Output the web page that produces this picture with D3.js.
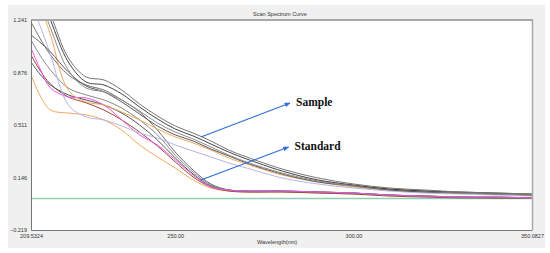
<!DOCTYPE html>
<html><head><meta charset="utf-8">
<script src="https://cdn.jsdelivr.net/npm/d3@7"></script>
<style>html,body{margin:0;padding:0;background:#fff;}svg{display:block;}</style>
</head><body>
<svg id="c" width="550" height="253"></svg>
<script>
const wavelengths = [209.5324, 212, 215, 220, 225, 230, 235, 240, 245, 250, 255, 260, 265, 270, 280, 290, 300, 310, 320, 330, 340, 350.0827];
const yTicks = [-0.219, 0.146, 0.511, 0.876, 1.241];
const xTickLabels = ["209.5324", "250.00", "300.00", "350.0827"];
const xTickValues = [209.5324, 250, 300, 350.0827];
const baselineValues = wavelengths.map(() => 0);

const sample1 = [1.519, 1.415, 1.276, 0.977, 0.845, 0.824, 0.754, 0.657, 0.574, 0.504, 0.455, 0.400, 0.337, 0.289, 0.205, 0.143, 0.101, 0.073, 0.059, 0.045, 0.038, 0.031];
const sample2 = [1.554, 1.436, 1.241, 0.949, 0.810, 0.789, 0.727, 0.636, 0.553, 0.483, 0.435, 0.379, 0.323, 0.275, 0.191, 0.129, 0.094, 0.066, 0.052, 0.045, 0.038, 0.031];
const sample3 = [1.484, 1.380, 1.185, 0.893, 0.768, 0.741, 0.685, 0.608, 0.525, 0.462, 0.414, 0.358, 0.302, 0.254, 0.177, 0.122, 0.087, 0.066, 0.052, 0.038, 0.031, 0.024];
const sample4 = [1.450, 1.345, 1.137, 0.754, 0.671, 0.650, 0.601, 0.546, 0.483, 0.428, 0.386, 0.337, 0.282, 0.240, 0.163, 0.115, 0.080, 0.059, 0.045, 0.038, 0.031, 0.024];
const sample5 = [1.137, 1.088, 1.019, 0.880, 0.782, 0.741, 0.671, 0.587, 0.504, 0.442, 0.400, 0.344, 0.296, 0.247, 0.170, 0.115, 0.087, 0.059, 0.045, 0.038, 0.031, 0.024];
const sample6 = [1.345, 1.206, 0.998, 0.650, 0.567, 0.546, 0.504, 0.455, 0.421, 0.372, 0.330, 0.289, 0.247, 0.212, 0.143, 0.101, 0.073, 0.052, 0.038, 0.031, 0.024, 0.017];

const standard1 = [1.227, 1.116, 0.998, 0.859, 0.789, 0.754, 0.685, 0.601, 0.476, 0.323, 0.198, 0.101, 0.059, 0.052, 0.052, 0.045, 0.038, 0.024, 0.017, 0.010, 0.010, 0.004];
const standard2 = [1.046, 0.907, 0.768, 0.706, 0.699, 0.650, 0.546, 0.442, 0.372, 0.268, 0.163, 0.080, 0.059, 0.052, 0.052, 0.045, 0.038, 0.024, 0.017, 0.010, 0.010, 0.004];
const standard3 = [0.949, 0.866, 0.789, 0.720, 0.685, 0.650, 0.594, 0.511, 0.407, 0.282, 0.170, 0.087, 0.059, 0.052, 0.052, 0.045, 0.038, 0.024, 0.017, 0.010, 0.004, 0.004];
const standard4 = [0.859, 0.720, 0.615, 0.594, 0.581, 0.546, 0.476, 0.372, 0.289, 0.212, 0.129, 0.073, 0.052, 0.045, 0.045, 0.038, 0.031, 0.024, 0.017, 0.010, 0.004, 0.004];
const standard5 = [0.998, 0.893, 0.796, 0.706, 0.665, 0.615, 0.546, 0.462, 0.365, 0.254, 0.150, 0.080, 0.052, 0.045, 0.045, 0.038, 0.031, 0.017, 0.010, 0.004, 0.004, 0.004];
const standard6 = [1.102, 0.998, 0.893, 0.768, 0.720, 0.685, 0.629, 0.546, 0.442, 0.302, 0.184, 0.094, 0.059, 0.052, 0.052, 0.045, 0.038, 0.024, 0.017, 0.010, 0.010, 0.004];

const seriesList = [
  {name: "Baseline", values: baselineValues, color: "#8ecfb2"},
  {name: "Standard 4", values: standard4, color: "#f4a860"},
  {name: "Standard 5", values: standard5, color: "#9a4a3a"},
  {name: "Standard 3", values: standard3, color: "#555555"},
  {name: "Standard 6", values: standard6, color: "#8a8a8a"},
  {name: "Standard 1", values: standard1, color: "#6e6e6e"},
  {name: "Standard 2", values: standard2, color: "#ee55e8"},
  {name: "Sample 6", values: sample6, color: "#b4b6e6"},
  {name: "Sample 4", values: sample4, color: "#f4a860"},
  {name: "Sample 5", values: sample5, color: "#5a5a5a"},
  {name: "Sample 3", values: sample3, color: "#8c8c8c"},
  {name: "Sample 2", values: sample2, color: "#444444"},
  {name: "Sample 1", values: sample1, color: "#767676"}
];

const annotations = [
  {label: "Sample", fromWl: 257.2, fromV: 0.428, toWl: 282.2, toV: 0.664},
  {label: "Standard", fromWl: 257.2, fromV: 0.129, toWl: 281.8, toV: 0.358}
];

const svg = d3.select("#c");
const L = 31, T = 20, R = 532, B = 230;

svg.append("rect").attr("x", 8).attr("y", 5).attr("width", 537).attr("height", 243).attr("fill", "#f0f0f0");
svg.append("rect").attr("x", L).attr("y", T).attr("width", R - L).attr("height", B - T).attr("fill", "#fff");

svg.append("text").attr("x", 280).attr("y", 16).attr("text-anchor", "middle")
  .attr("font-family", "Liberation Sans, Arial, sans-serif").attr("font-size", 5.5).attr("fill", "#333")
  .text("Scan Spectrum Curve");

const x = d3.scaleLinear().domain([209.5324, 350.0827]).range([L, R]);
const y = d3.scaleLinear().domain([-0.219, 1.241]).range([B, T]);

svg.append("defs").append("clipPath").attr("id", "clip")
  .append("rect").attr("x", L).attr("y", T).attr("width", R - L).attr("height", B - T);

const line = d3.line().x((d, i) => x(wavelengths[i])).y(d => y(d)).curve(d3.curveCatmullRom.alpha(0.5));

const g = svg.append("g").attr("clip-path", "url(#clip)");
g.selectAll("path.s").data(seriesList).join("path").attr("class", "s")
  .attr("d", d => line(d.values)).attr("fill", "none")
  .attr("stroke", d => d.color).attr("stroke-width", d => d.name === "Baseline" ? 1.3 : 1);

svg.append("line").attr("x1", L).attr("x2", R + 1).attr("y1", T).attr("y2", T).attr("stroke", "#a8a8a8").attr("stroke-width", 2);
svg.append("line").attr("x1", R + 0.5).attr("x2", R + 0.5).attr("y1", T).attr("y2", B).attr("stroke", "#a8a8a8").attr("stroke-width", 1.5);

const yAxis = d3.axisLeft(y).tickValues(yTicks).tickSize(0).tickPadding(4).tickFormat(d3.format(".3f"));
const ya = svg.append("g").attr("transform", `translate(${L},0)`).call(yAxis);
ya.select(".domain").attr("stroke", "#777");
ya.selectAll("text").attr("font-family", "Liberation Sans, Arial, sans-serif").attr("font-size", 5.5).attr("fill", "#333");

const xAxis = d3.axisBottom(x).tickValues(xTickValues).tickSize(0).tickPadding(4)
  .tickFormat((d, i) => xTickLabels[i]);
const xa = svg.append("g").attr("transform", `translate(0,${B})`).call(xAxis);
xa.select(".domain").attr("stroke", "#777");
xa.selectAll("text").attr("font-family", "Liberation Sans, Arial, sans-serif").attr("font-size", 5.5).attr("fill", "#333");

svg.append("text").attr("x", 277).attr("y", 244).attr("text-anchor", "middle")
  .attr("font-family", "Liberation Sans, Arial, sans-serif").attr("font-size", 5.5).attr("fill", "#333")
  .text("Wavelength(nm)");

const defs = svg.select("defs");
defs.append("marker").attr("id", "arr").attr("viewBox", "0 0 10 10").attr("refX", 9).attr("refY", 5)
  .attr("markerWidth", 5).attr("markerHeight", 5).attr("orient", "auto")
  .append("path").attr("d", "M0,1 L10,5 L0,9 z").attr("fill", "#2f6fd6");

annotations.forEach(a => {
  svg.append("line").attr("x1", x(a.fromWl)).attr("y1", y(a.fromV)).attr("x2", x(a.toWl)).attr("y2", y(a.toV))
    .attr("stroke", "#2f6fd6").attr("stroke-width", 1.2).attr("marker-end", "url(#arr)");
  svg.append("text").attr("x", x(a.toWl) + 6).attr("y", y(a.toV) + 3)
    .attr("font-family", "Liberation Serif, Times New Roman, serif").attr("font-weight", "bold")
    .attr("font-size", 11.5).attr("fill", "#111").text(a.label);
});
</script>
</body></html>
